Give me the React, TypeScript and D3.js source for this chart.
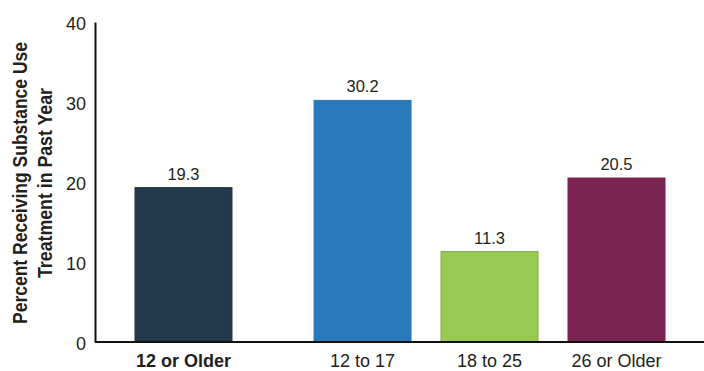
import * as d3 from "d3";
import React from "react";

const categories = ["12 or Older", "12 to 17", "18 to 25", "26 or Older"];
const values = [19.3, 30.2, 11.3, 20.5];
const barColors = ["#22384b", "#2a7abb", "#98c953", "#7b2351"];
const barStrokes = ["#22384b", "#2a7abb", "#7fad47", "#7b2351"];
const yTicks = [0, 10, 20, 30, 40];
const yTitleLines = ["Percent Receiving Substance Use", "Treatment in Past Year"];
const yTitleLengths = [282, 190];

const FONT = "'Liberation Sans', Arial, sans-serif";

class App extends React.Component<{}, any> {
  private yAxisGRef: React.RefObject<SVGGElement>;
  private width = 704;
  private height = 371;
  private margin = { left: 95, right: 0, top: 22, bottom: 29 };
  // extra gap (in bar steps) between the total bar and the age groups
  private groupGap = 0.41;

  constructor(props: {}) {
    super(props);
    this.yAxisGRef = React.createRef();
  }

  public componentDidMount() {
    this.drawAxis();
  }

  private yScale() {
    return d3.scaleLinear()
      .domain([0, 40])
      .range([this.height - this.margin.bottom, this.margin.top]);
  }

  private xScale() {
    return d3.scaleLinear()
      .domain([0, categories.length - 1 + this.groupGap])
      .range([183.5, 616.5]);
  }

  private slot(i: number) {
    return i + (i > 0 ? this.groupGap : 0);
  }

  private drawAxis() {
    const yAxis = d3.axisLeft(this.yScale())
      .tickValues(yTicks)
      .tickSize(0)
      .tickSizeOuter(0)
      .tickPadding(9);

    const g = d3.select(this.yAxisGRef.current)
      .attr("transform", `translate(${this.margin.left},0)`)
      .call(yAxis);

    g.select(".domain")
      .attr("stroke", "#111")
      .attr("stroke-width", 2);

    g.selectAll(".tick text")
      .attr("font-family", FONT)
      .attr("font-size", 18)
      .attr("fill", "#231f20")
      .attr("dy", "0.42em");
  }

  public render() {
    const x = this.xScale();
    const y = this.yScale();
    const step = x(1) - x(0);
    const barWidth = step * 0.764;
    const baseY = y(0);

    return (
      <svg width={this.width} height={this.height}
        style={{ position: "absolute", left: 0, top: 0, background: "#fff" }}>
        <g>
          {values.map((v, i) => {
            const cx = x(this.slot(i));
            return (
              <g key={categories[i]}>
                <rect x={cx - barWidth / 2} y={y(v)} width={barWidth} height={baseY - y(v)}
                  fill={barColors[i]} stroke={barStrokes[i]} strokeWidth={1} />
                <text x={cx} y={y(v) - 8} textAnchor="middle" fontFamily={FONT}
                  fontSize={16.5} fill="#231f20">{v.toFixed(1)}</text>
                <text x={cx} y={367} textAnchor="middle" fontFamily={FONT}
                  fontSize={18} fontWeight={i === 0 ? "bold" : "normal"}
                  fill="#231f20">{categories[i]}</text>
              </g>
            );
          })}
        </g>
        <line x1={this.margin.left} x2={this.width} y1={baseY} y2={baseY}
          stroke="#111" strokeWidth={2} />
        <g ref={this.yAxisGRef}></g>
        <g transform="rotate(-90)">
          {yTitleLines.map((t, i) => (
            <text key={t} x={-183} y={27 + i * 25} textAnchor="middle" fontFamily={FONT}
              fontSize={20.5} fontWeight="bold" fill="#231f20"
              textLength={yTitleLengths[i]} lengthAdjust="spacingAndGlyphs">{t}</text>
          ))}
        </g>
      </svg>
    );
  }
}

export default App;
